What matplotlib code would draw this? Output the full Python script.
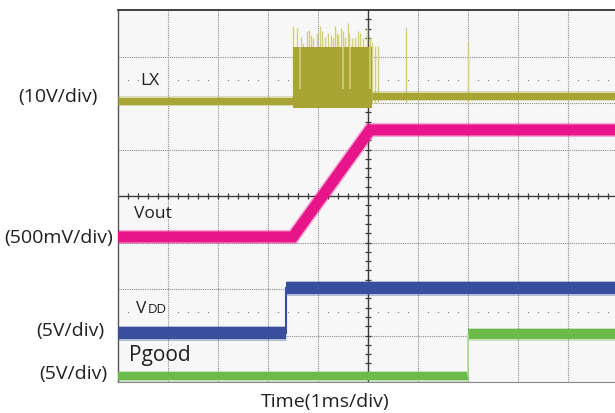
import numpy as np
from matplotlib import pyplot as plt

# scope screen in divisions: x 0..10 (1ms/div), y 0..8
# LX switching node (10V/div)
lx_pre_t = [0.0, 3.50]
lx_pre_v = [6.04, 6.04]
lx_post_t = [5.08, 10.0]
lx_post_v = [6.15, 6.15]
burst_t = [3.50, 5.08]
burst_lo = 5.89
burst_hi = 7.20
burst_gaps = [3.64, 4.50, 4.64, 5.04]
spike_t = [3.50, 3.57, 3.65, 3.70, 3.77, 3.81, 3.85, 3.90, 3.97, 4.03, 4.07,
           4.13, 4.19, 4.25, 4.30, 4.33, 4.37, 4.40, 4.45, 4.50, 4.53, 4.59,
           4.62, 4.67, 4.73, 4.80, 4.83, 4.90, 4.97, 5.03, 5.08, 5.13, 5.19,
           5.76, 7.00]
spike_v = [7.65, 7.61, 7.43, 7.29, 7.54, 7.58, 7.47, 7.40, 7.51, 7.65, 7.54,
           7.43, 7.51, 7.47, 7.40, 7.65, 7.51, 7.47, 7.61, 7.54, 7.43, 7.72,
           7.51, 7.40, 7.43, 7.54, 7.51, 7.40, 7.61, 7.43, 7.29, 7.22, 7.22,
           7.64, 7.31]

# Vout (500mV/div)
vout_t = [0.0, 3.50, 5.04, 10.0]
vout_v = [3.12, 3.12, 5.42, 5.42]

# VDD (5V/div)
vdd_t = [0.0, 3.36, 10.0]
vdd_v = [1.05, 2.02]

# Pgood (5V/div)
pg_t = [0.0, 7.00, 10.0]
pg_v = [0.13, 1.03]

lx_col = '#a8a535'
spike_col = '#d2d07a'
vout_col = '#e8158a'
vdd_col = '#3a4e9e'
pg_col = '#6abb4a'
txt_col = '#231f20'
bg_col = '#f7f7f7'

W, H = 615, 413
fig = plt.figure(figsize=(W / 100, H / 100), dpi=100)
fig.patch.set_facecolor('white')

# plot area: left 118px, top 10px, bottom 382px, 50px per div (runs off right edge)
x0, x1, ytop, ybot = 118, 618, 10, 382
ax = fig.add_axes([x0 / W, (H - ybot) / H, (x1 - x0) / W, (ybot - ytop) / H])
ax.set_xlim(0, 10)
ax.set_ylim(0, 8)
ax.set_facecolor(bg_col)
ax.set_xticks([])
ax.set_yticks([])
ax.spines['top'].set_color('#222222')
ax.spines['top'].set_linewidth(1.2)
ax.spines['left'].set_color('#555555')
ax.spines['left'].set_linewidth(1.0)
ax.spines['bottom'].set_color('#888888')
ax.spines['bottom'].set_linewidth(0.8)
ax.spines['right'].set_visible(False)

def px(n):
    return n * 0.72

# grid
for i in range(1, 10):
    ax.axvline(i, color='#8c8c8c', lw=0.8, ls=(0, (1, 1)), zorder=1)
for j in range(1, 8):
    if j != 4:
        ax.axhline(j, color='#8c8c8c', lw=0.8, ls=(0, (1, 1)), zorder=1)

# half-division dotted rows
dots = [k / 5 for k in range(1, 50) if k % 5 != 0]
for yy in [6.5, 1.5]:
    ax.plot(dots, [yy] * len(dots), ls='none', marker='s', ms=0.9, mew=0,
            color='#8a8a8a', zorder=1)

# centre axes with tick marks
ax.axhline(4, color='#3c3c3c', lw=1.0, zorder=2)
ax.axvline(5, color='#3c3c3c', lw=1.0, zorder=2)
tx = [k / 5 for k in range(1, 50)]
ty = [k / 5 for k in range(1, 40)]
ax.plot(tx, [4] * len(tx), ls='none', marker='|', ms=5, mew=0.9,
        color='#3c3c3c', zorder=2)
ax.plot([5] * len(ty), ty, ls='none', marker='_', ms=5, mew=0.9,
        color='#3c3c3c', zorder=2)

def trace(t, v, col, w, z=4):
    # soft halo for the noisy edge, then the solid band
    ax.plot(t, v, color=col, lw=px(w + 3), alpha=0.35, solid_capstyle='butt',
            solid_joinstyle='miter', zorder=z)
    ax.plot(t, v, color=col, lw=px(w), solid_capstyle='butt',
            solid_joinstyle='miter', zorder=z)

# LX
trace(lx_pre_t, lx_pre_v, lx_col, 7, 3)
trace(lx_post_t, lx_post_v, lx_col, 7, 3)
ax.vlines(spike_t, 6.0, spike_v, color=spike_col, lw=1.0, zorder=2.9)
ax.fill_between(burst_t, burst_lo, burst_hi, color=lx_col, lw=0, zorder=3)
ax.vlines(burst_gaps, 6.3, burst_hi, color=spike_col, lw=1.2, zorder=3)

# Vout
trace(vout_t, vout_v, vout_col, 11)

# VDD
trace(vdd_t[:2], [vdd_v[0]] * 2, vdd_col, 12)
trace(vdd_t[1:], [vdd_v[1]] * 2, vdd_col, 12)
ax.plot([vdd_t[1]] * 2, vdd_v, color=vdd_col, lw=1.5, zorder=4)

# Pgood
trace(pg_t[:2], [pg_v[0]] * 2, pg_col, 8)
trace(pg_t[1:], [pg_v[1]] * 2, pg_col, 10)
ax.plot([pg_t[1]] * 2, pg_v, color='#a8dc90', lw=1.2, zorder=4)

# labels (figure pixel positions)
fam = ['Open Sans', 'DejaVu Sans']

def label(x, y, s, size=14, ha='center', va='center', box=False):
    kw = {}
    if box:
        kw['bbox'] = dict(facecolor=bg_col, edgecolor='none', pad=0.5)
    fig.text(x / W, 1 - y / H, s, fontsize=size, ha=ha, va=va,
             color=txt_col, family=fam, zorder=5, **kw)

label(58, 97, '(10V/div)')
label(59, 238, '(500mV/div)')
label(70, 331, '(5V/div)')
label(73, 374, '(5V/div)')
label(140, 81, 'LX', 12.5, ha='left', box=True)
label(134, 214, 'Vout', 12.5, ha='left')
label(136, 313, 'V', 12.5, ha='left', va='baseline', box=True)
label(148, 313, 'DD', 9.5, ha='left', va='baseline', box=True)
label(129, 355, 'Pgood', 15, ha='left')
label(325, 402, 'Time(1ms/div)')

fig.savefig('out.png', dpi=100)
